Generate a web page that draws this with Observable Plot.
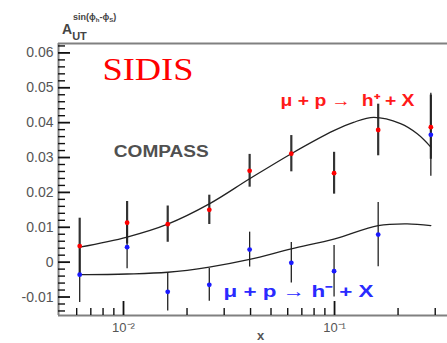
<!DOCTYPE html>
<html><head><meta charset="utf-8">
<script src="https://cdn.jsdelivr.net/npm/d3@7"></script>
<script src="https://cdn.jsdelivr.net/npm/@observablehq/plot@0.6"></script>
<style>body{margin:0;background:#fff} #chart svg{display:block}</style>
</head><body><div id="chart"></div>
<script>
// ---- data ----
const xBins = [0.0062, 0.0104, 0.0162, 0.0255, 0.0396, 0.0624, 0.0995, 0.161, 0.286];
const hPlus = [0.0046, 0.0113, 0.0109, 0.0150, 0.0262, 0.0311, 0.0255, 0.0379, 0.0387];
const hPlusErr = [0.0080, 0.0061, 0.0052, 0.0042, 0.0047, 0.0052, 0.0060, 0.0074, 0.0092];
const hMinus = [-0.0036, 0.0043, -0.0085, -0.0065, 0.0036, -0.0002, -0.0026, 0.0079, 0.0365];
const hMinusErr = [0.0080, 0.0062, 0.0055, 0.0047, 0.0050, 0.0058, 0.0074, 0.0092, 0.0119];

const curvePlusX = [0.0062, 0.0104, 0.0162, 0.0255, 0.0396, 0.0624, 0.0992, 0.123, 0.1535, 0.2055, 0.2466, 0.286];
const curvePlusY = [0.0043, 0.0072, 0.0109, 0.0167, 0.0239, 0.0311, 0.0377, 0.0401, 0.0415, 0.0397, 0.0368, 0.0330];
const curveMinusX = [0.0062, 0.0104, 0.0162, 0.0255, 0.0396, 0.0624, 0.1003, 0.161, 0.221, 0.286];
const curveMinusY = [-0.0036, -0.0034, -0.0029, -0.0014, 0.0008, 0.0038, 0.0067, 0.0105, 0.0110, 0.0105];

const xDomain = [0.00492, 0.343];
const yDomain = [-0.0153, 0.0627];
const yMajorTicks = [-0.01, 0, 0.01, 0.02, 0.03, 0.04, 0.05, 0.06];
const yTickLabels = ["-0.01", "0", "0.01", "0.02", "0.03", "0.04", "0.05", "0.06"];
const yMinorTicks = [-0.014, -0.012, -0.008, -0.006, -0.004, -0.002, 0.002, 0.004, 0.006, 0.008,
  0.012, 0.014, 0.016, 0.018, 0.022, 0.024, 0.026, 0.028, 0.032, 0.034, 0.036, 0.038,
  0.042, 0.044, 0.046, 0.048, 0.052, 0.054, 0.056, 0.058, 0.062];
const xMajorTicks = [0.01, 0.1];
const xTickLabels = ["10\u207B\u00B2", "10\u207B\u00B9"];
const xMinorTicks = [0.006, 0.007, 0.008, 0.009, 0.02, 0.03, 0.04, 0.05, 0.06, 0.07, 0.08, 0.09, 0.2, 0.3];

// ---- tables built from the arrays ----
const plusPts = xBins.map((x, i) => ({x, y: hPlus[i], e: hPlusErr[i]}));
const minusPts = xBins.map((x, i) => ({x, y: hMinus[i], e: hMinusErr[i]}));
const curvePlus = curvePlusX.map((x, i) => ({x, y: curvePlusY[i]}));
const curveMinus = curveMinusX.map((x, i) => ({x, y: curveMinusY[i]}));

const W = 447, H = 343, ML = 58, MR = 0, MT = 43, MB = 28;
const plotW = W - ML - MR, plotH = H - MT - MB;
const sans = "'Liberation Sans', Arial, Helvetica, sans-serif";

const chart = Plot.plot({
  width: W, height: H,
  marginLeft: ML, marginRight: MR, marginTop: MT, marginBottom: MB,
  style: {fontFamily: sans, background: "white"},
  x: {type: "log", domain: xDomain},
  y: {domain: yDomain},
  marks: [
    // frame (top, bottom, left)
    Plot.ruleY([yDomain[1]], {stroke: "#808080", strokeWidth: 2}),
    Plot.ruleY([yDomain[0]], {stroke: "#808080", strokeWidth: 2}),
    Plot.ruleX([xDomain[0]], {stroke: "#808080", strokeWidth: 2}),
    // inward ticks
    Plot.tickY(yMinorTicks, {y: d => d, stroke: "#111", strokeWidth: 1.4, insetRight: plotW - 7}),
    Plot.tickY(yMajorTicks, {y: d => d, stroke: "#111", strokeWidth: 1.8, insetRight: plotW - 12}),
    Plot.tickX(xMinorTicks, {x: d => d, stroke: "#111", strokeWidth: 1.4, insetTop: plotH - 7}),
    Plot.tickX(xMajorTicks, {x: d => d, stroke: "#111", strokeWidth: 1.8, insetTop: plotH - 14}),
    // tick labels
    Plot.axisY(yMajorTicks, {tickSize: 0, tickPadding: 5, label: null, fontSize: 14, color: "#555",
      tickFormat: d => yTickLabels[yMajorTicks.indexOf(d)]}),
    Plot.axisX(xMajorTicks, {tickSize: 0, tickPadding: 7, label: null, fontSize: 13, color: "#555",
      tickFormat: d => xTickLabels[xMajorTicks.indexOf(d)]}),
    Plot.text(["x"], {x: 0.0446, y: -0.0212, fontSize: 13, fontWeight: "bold", fill: "#555"}),
    // error bars
    Plot.ruleX(plusPts, {x: "x", y1: d => d.y - d.e, y2: d => d.y + d.e, stroke: "#333", strokeWidth: 2.2}),
    Plot.ruleX(minusPts, {x: "x", y1: d => d.y - d.e, y2: d => d.y + d.e, stroke: "#222", strokeWidth: 1.3}),
    // model curves
    Plot.line(curvePlus, {x: "x", y: "y", curve: "catmull-rom", stroke: "#222", strokeWidth: 1.3}),
    Plot.line(curveMinus, {x: "x", y: "y", curve: "catmull-rom", stroke: "#222", strokeWidth: 1.3}),
    // points
    Plot.dot(plusPts, {x: "x", y: "y", r: 2.4, fill: "#ff0000", stroke: "none"}),
    Plot.dot(minusPts, {x: "x", y: "y", r: 2.4, fill: "#1a1aff", stroke: "none"}),
    // annotations
    Plot.text(["SIDIS"], {x: 0.01306, y: 0.0552, fontSize: 32, fill: "#ff0000",
      fontFamily: "'Liberation Serif', 'Times New Roman', serif"}),
    Plot.text(["COMPASS"], {x: 0.0151, y: 0.0317, fontSize: 16, fontWeight: "bold", fill: "#505050"}),
    Plot.text(["\u03BC + p \u2192  h\u207A + X"], {x: 0.1152, y: 0.0463, fontSize: 16, fontWeight: "bold", fill: "#ff1a1a"}),
    Plot.text(["\u03BC + p \u2192 h\u207B + X"], {x: 0.0675, y: -0.00854, fontSize: 17, fontWeight: "bold", fill: "#2a2aff"})
  ]
});

// stretch annotation widths to the reference
const widths = {"SIDIS": 91, "COMPASS": 95, "\u03BC + p \u2192  h\u207A + X": 134, "\u03BC + p \u2192 h\u207B + X": 150};
d3.select(chart).selectAll("text").each(function() {
  const w = widths[this.textContent];
  if (w) { this.setAttribute("textLength", w); this.setAttribute("lengthAdjust", "spacingAndGlyphs"); }
});

// y-axis title A_UT^{sin(phi_h - phi_S)}
const svg = d3.select(chart);
const title = svg.append("text").attr("x", 62).attr("y", 34).attr("fill", "#444")
  .attr("text-anchor", "start").attr("font-family", sans).attr("font-weight", "bold");
title.append("tspan").attr("font-size", 14).text("A");
title.append("tspan").attr("font-size", 11).attr("dy", 6).text("UT");
const sup = svg.append("text").attr("x", 73).attr("y", 20).attr("fill", "#444")
  .attr("text-anchor", "start").attr("font-family", sans).attr("font-weight", "bold").attr("font-size", 9);
sup.append("tspan").text("sin(\u03D5");
sup.append("tspan").attr("font-size", 6).attr("dy", 2).text("h");
sup.append("tspan").attr("dy", -2).text("-\u03D5");
sup.append("tspan").attr("font-size", 6).attr("dy", 2).text("S");
sup.append("tspan").attr("dy", -2).text(")");

document.getElementById("chart").appendChild(chart);
</script>
</body></html>
